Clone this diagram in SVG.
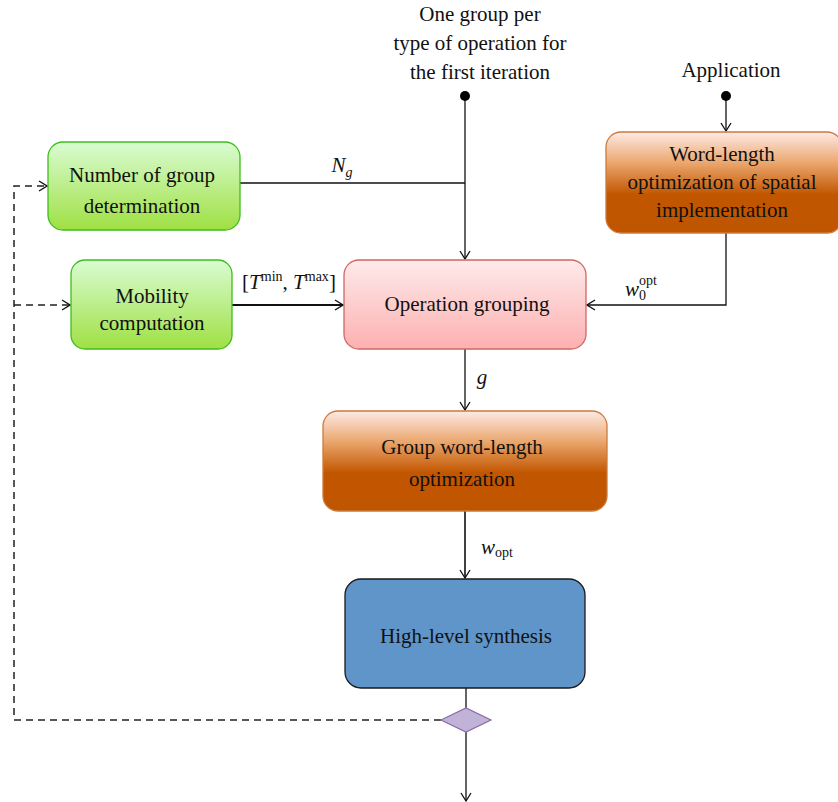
<svg xmlns="http://www.w3.org/2000/svg" width="838" height="802" viewBox="0 0 838 802">
<style>
text{font-family:"Liberation Serif","Times New Roman",serif;font-size:21px;fill:#111;text-anchor:middle}
.it{font-style:italic}
.sup{font-size:14px}
.c{fill:none;stroke:#111;stroke-width:1.3}
.d{fill:none;stroke:#222;stroke-width:1.5;stroke-dasharray:7,5}
</style>
<defs>
<linearGradient id="gG" x1="0" y1="0" x2="0" y2="1"><stop offset="0" stop-color="#d9fcd2"/><stop offset="1" stop-color="#9fe043"/></linearGradient>
<linearGradient id="gP" x1="0" y1="0" x2="0" y2="1"><stop offset="0" stop-color="#feeaea"/><stop offset="1" stop-color="#fdb0b0"/></linearGradient>
<linearGradient id="gO" x1="0" y1="0" x2="0" y2="1"><stop offset="0" stop-color="#fdeae6"/><stop offset="0.3" stop-color="#eba870"/><stop offset="0.62" stop-color="#c25600"/><stop offset="1" stop-color="#c05500"/></linearGradient>
<marker id="a" viewBox="0 0 10 12" refX="9" refY="6" markerWidth="10" markerHeight="12" markerUnits="userSpaceOnUse" orient="auto"><path d="M1,1 L9,6 L1,11" fill="none" stroke="#111" stroke-width="1.3"/></marker>
</defs>

<g id="connectors">
<line class="c" x1="465" y1="96" x2="465" y2="259" marker-end="url(#a)"/>
<line class="c" x1="240" y1="183" x2="465" y2="183"/>
<line class="c" x1="232" y1="305" x2="343" y2="305" style="stroke-width:2" marker-end="url(#a)"/>
<line class="c" x1="726" y1="96" x2="726" y2="131" marker-end="url(#a)"/>
<polyline class="c" points="726,233 726,305 587,305" marker-end="url(#a)"/>
<line class="c" x1="465" y1="349" x2="465" y2="410" marker-end="url(#a)"/>
<line class="c" x1="465" y1="511" x2="465" y2="578" style="stroke-width:1.6" marker-end="url(#a)"/>
<line class="c" x1="466" y1="688" x2="466" y2="708"/>
<line class="c" x1="466" y1="732" x2="466" y2="801" marker-end="url(#a)"/>
<polyline class="d" points="441,720 14,720 14,186 47,186" marker-end="url(#a)"/>
<polyline class="d" points="14,305 70,305" marker-end="url(#a)"/>
<circle cx="465" cy="96" r="5" fill="#000"/>
<circle cx="726" cy="96" r="5" fill="#000"/>
<text class="it" x="342" y="172">N<tspan class="sup" dy="5">g</tspan></text>
<text x="289" y="289">[<tspan class="it">T</tspan><tspan class="sup" dy="-8">min</tspan><tspan dy="8">, </tspan><tspan class="it">T</tspan><tspan class="sup" dy="-8">max</tspan><tspan dy="8">]</tspan></text>
<text x="641" y="296"><tspan class="it">w</tspan><tspan class="sup" dy="4">0</tspan><tspan class="sup" dx="-7" dy="-15">opt</tspan></text>
<text class="it" x="482" y="384">g</text>
<text x="497" y="554"><tspan class="it">w</tspan><tspan class="sup" dy="3">opt</tspan></text>
<text x="480" y="21">One group per</text>
<text x="480" y="50">type of operation for</text>
<text x="480" y="79">the first iteration</text>
<text x="731" y="77">Application</text>
</g>

<g id="n-number">
<rect x="48" y="142" width="192" height="88" rx="15" fill="url(#gG)" stroke="#3cbf1c" stroke-width="1.3"/>
<text x="142" y="182">Number of group</text>
<text x="142" y="213">determination</text>
</g>
<g id="n-mobility">
<rect x="71" y="260" width="161" height="89" rx="14" fill="url(#gG)" stroke="#3cbf1c" stroke-width="1.3"/>
<text x="152" y="303">Mobility</text>
<text x="152" y="330">computation</text>
</g>
<g id="n-grouping">
<rect x="344" y="260" width="242" height="89" rx="15" fill="url(#gP)" stroke="#d06666" stroke-width="1.3"/>
<text x="467" y="311">Operation grouping</text>
</g>
<g id="n-wlspatial">
<rect x="606" y="132" width="236" height="101" rx="15" fill="url(#gO)" stroke="#cc7a3a" stroke-width="1.3"/>
<text x="722" y="161">Word-length</text>
<text x="722" y="189">optimization of spatial</text>
<text x="722" y="217">implementation</text>
</g>
<g id="n-groupwl">
<rect x="323" y="411" width="284" height="100" rx="15" fill="url(#gO)" stroke="#cc7a3a" stroke-width="1.3"/>
<text x="462" y="454">Group word-length</text>
<text x="462" y="486">optimization</text>
</g>
<g id="n-hls">
<rect x="345" y="579" width="240" height="109" rx="16" fill="#5f95c9" stroke="#1a1a1a" stroke-width="1.3"/>
<text x="466" y="643">High-level synthesis</text>
</g>
<g id="n-decision">
<polygon points="441,720 466,708 491,720 466,732" fill="#c1b3d8" stroke="#8a6aaa" stroke-width="1.2"/>
</g>
</svg>
